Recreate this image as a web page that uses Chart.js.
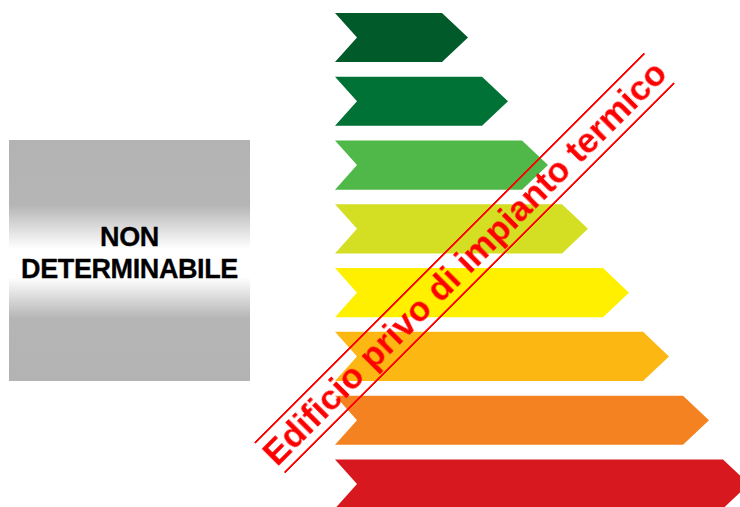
<!DOCTYPE html>
<html>
<head>
<meta charset="utf-8">
<script src="https://cdn.jsdelivr.net/npm/chart.js@4"></script>
<style>
  html, body { margin: 0; padding: 0; background: #fff; }
  #wrap { position: relative; width: 740px; height: 507px; overflow: hidden; }
  #classChart { position: absolute; left: 0; top: 0; }
  .nd-box {
    position: absolute; left: 9px; top: 140px; width: 241px; height: 241px;
    background: linear-gradient(to bottom, #b3b3b3 0%, #b5b5b5 27%, #ffffff 45%, #ffffff 57%, #b5b5b5 74%, #b3b3b3 100%);
    box-sizing: border-box; padding-bottom: 16px;
    display: flex; align-items: center; justify-content: center; text-align: center;
    font-family: "Liberation Sans", Arial, sans-serif; font-weight: bold; font-size: 27px;
    letter-spacing: -0.4px; line-height: 32px; color: #000;
    -webkit-text-stroke: 0.3px #000;
  }
  .stamp {
    position: absolute; left: 189px; top: 241px; width: 551px; height: 44px;
    box-sizing: border-box; border-top: 2px solid #ff0000; border-bottom: 2px solid #ff0000;
    transform: rotate(-45deg); transform-origin: 50% 50%;
    display: flex; align-items: center; justify-content: center;
    font-family: "Liberation Sans", Arial, sans-serif; font-weight: bold; font-size: 35px;
    color: #ff0000; white-space: nowrap;
  }
</style>
</head>
<body>
<div id="wrap">
  <canvas id="classChart" width="740" height="507"></canvas>
  <div class="nd-box"><div>NON<br>DETERMINABILE</div></div>
  <div class="stamp"><span>Edificio privo di impianto termico</span></div>
</div>
<script>
  const classes = ['A+', 'A', 'B', 'C', 'D', 'E', 'F', 'G'];
  const barLengths = [107, 147, 187, 227, 268, 308, 348, 388];
  const classColors = ['#005a2a', '#007236', '#4fb848', '#d4de22', '#fff000', '#fdb713', '#f58220', '#d7191f'];

  // draw each bar as an arrow (notch on the left, point on the right)
  const arrowBars = {
    id: 'arrowBars',
    beforeDatasetsDraw(chart) {
      const ctx = chart.ctx;
      chart.getDatasetMeta(0).data.forEach(bar => {
        const h = bar.height / 2;
        const tip = 26, notch = 22;
        ctx.save();
        ctx.fillStyle = bar.options.backgroundColor;
        ctx.beginPath();
        ctx.moveTo(bar.base, bar.y - h);
        ctx.lineTo(bar.x, bar.y - h);
        ctx.lineTo(bar.x + tip, bar.y);
        ctx.lineTo(bar.x, bar.y + h);
        ctx.lineTo(bar.base, bar.y + h);
        ctx.lineTo(bar.base + notch, bar.y);
        ctx.closePath();
        ctx.fill();
        ctx.restore();
      });
      return false;
    }
  };

  new Chart(document.getElementById('classChart'), {
    type: 'bar',
    data: {
      labels: classes,
      datasets: [{
        data: barLengths,
        backgroundColor: classColors,
        categoryPercentage: 1,
        barPercentage: 0.77
      }]
    },
    options: {
      indexAxis: 'y',
      responsive: false,
      animation: false,
      layout: { padding: { left: 335, right: 0, top: 37.5, bottom: 23 } },
      plugins: { legend: { display: false }, tooltip: { enabled: false } },
      scales: {
        x: { type: 'linear', min: 0, max: 405, display: false },
        y: { type: 'category', offset: false, display: false }
      }
    },
    plugins: [arrowBars]
  });
</script>
</body>
</html>
